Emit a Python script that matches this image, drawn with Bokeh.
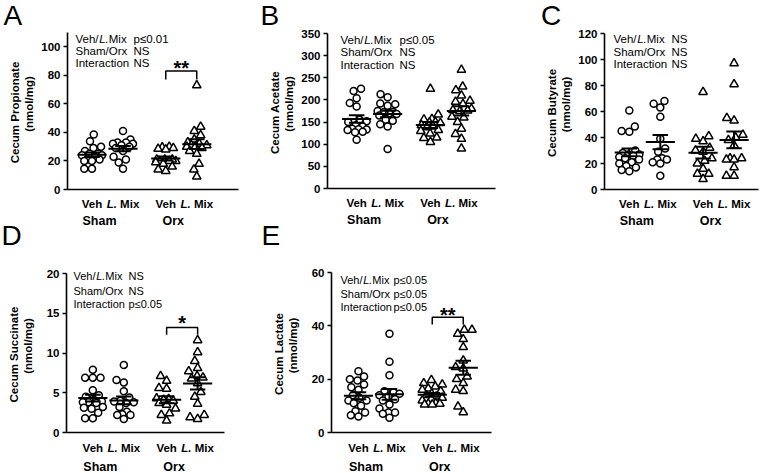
import numpy as np
from bokeh.plotting import figure
from bokeh.models import Label, FixedTicker, Range1d, LinearAxis
from bokeh.layouts import row
from bokeh.embed import file_html
from bokeh.resources import INLINE

FONT = "Liberation Sans"

# ---------------- categories ----------------
treatments = ["Veh", "L. Mix", "Veh", "L. Mix"]
surgeries = ["Sham", "Orx"]
group_pos = [1.0, 2.0, 3.38, 4.38]
group_marker = ["circle", "circle", "triangle", "triangle"]
stat_names = ["Veh/L.Mix", "Sham/Orx", "Interaction"]

# ---------------- data (nmol/mg) ----------------
propionate_sham_veh = [38.5, 33.8, 30, 29, 27, 25, 25, 24, 24, 23, 21, 21, 20, 20, 14.5, 14.5]
propionate_sham_lmix = [41, 35, 33, 33, 32, 32, 31, 30, 29, 27, 23, 21, 19, 14.5]
propionate_orx_veh = [30, 29.5, 29, 28.5, 28, 21, 20, 21, 21, 20, 20, 19, 18, 16, 14, 13]
propionate_orx_lmix = [73, 44, 41, 38, 35, 33, 32, 31, 31, 30, 30, 29, 27, 25, 18, 14, 9]

acetate_sham_veh = [225, 220, 204, 193, 185, 155, 152, 150, 143, 140, 135, 134, 133, 132, 128, 127, 110]
acetate_sham_lmix = [213, 206, 192, 190, 187, 175, 173, 172, 170, 168, 165, 155, 153, 145, 140, 89]
acetate_orx_veh = [225, 167, 157, 156, 150, 149, 148, 143, 140, 138, 132, 130, 124, 115, 114, 105]
acetate_orx_lmix = [268, 230, 222, 210, 198, 196, 191, 180, 177, 176, 175, 162, 160, 150, 135, 123, 112, 90]

butyrate_sham_veh = [60.8, 48.5, 45, 44.4, 30, 28, 27, 27, 26, 25, 24, 23, 21, 20, 18, 17, 15, 14]
butyrate_sham_lmix = [68, 66, 63, 56, 39, 31.5, 29, 24, 23, 23, 21, 20, 10.5]
butyrate_orx_veh = [75, 41, 39, 37, 32, 30, 29, 24, 22, 20, 16, 12, 12, 8]
butyrate_orx_lmix = [97, 81, 55, 53, 42, 40, 38, 34, 24, 24, 23, 23, 17, 10.5, 10.5]

succinate_sham_veh = [7.9, 6.9, 6.9, 6.9, 5.3, 4.7, 4.5, 4.2, 3.9, 3.8, 3.8, 3.7, 3.2, 3.1, 3.0, 2.5, 1.8, 1.8]
succinate_sham_lmix = [8.5, 6.6, 6.3, 5.2, 4.4, 4.0, 3.9, 3.8, 3.7, 3.2, 2.6, 2.3, 2.2, 2.2, 1.7]
succinate_orx_veh = [7.1, 6.5, 5.6, 5.5, 4.3, 4.2, 4.1, 4.0, 3.7, 3.5, 3.0, 2.4, 2.2, 1.5]
succinate_orx_lmix = [11.6, 10.1, 9.0, 8.1, 7.7, 7.1, 6.9, 6.8, 6.2, 5.1, 4.5, 3.6, 2.2, 1.9, 1.7]

lactate_sham_veh = [23, 21, 20, 19.5, 18, 17, 16, 14, 13, 12, 12, 11, 10, 8, 7.5, 6.5, 6]
lactate_sham_lmix = [37, 26.5, 21.5, 15.5, 15, 14.5, 14, 13.5, 12.5, 12, 10.5, 9, 7.5, 7.5, 7, 5.5]
lactate_orx_veh = [19.7, 18.5, 18, 17.2, 16.5, 16, 15.5, 14.5, 14, 13.5, 13, 12.5, 12, 11, 10.8, 10.8, 10.5, 10.5]
lactate_orx_lmix = [38.5, 38.5, 37, 35, 32, 27, 24.5, 24, 21, 20, 18.5, 16, 15.5, 9.7, 7.6]

# axis definitions
propionate_ticks = [0, 20, 40, 60, 80, 100]
acetate_ticks = [0, 50, 100, 150, 200, 250, 300, 350]
butyrate_ticks = [0, 20, 40, 60, 80, 100, 120]
succinate_ticks = [0, 5, 10, 15, 20]
lactate_ticks = [0, 20, 40, 60]

propionate_stats = ["p≤0.01", "NS", "NS"]
acetate_stats = ["p≤0.05", "NS", "NS"]
butyrate_stats = ["NS", "NS", "NS"]
succinate_stats = ["NS", "NS", "p≤0.05"]
lactate_stats = ["p≤0.05", "p≤0.05", "p≤0.05"]

# significance brackets: (top, foot, stars)
propionate_bracket = (83, 77, "**")
succinate_bracket = (13.2, 12.3, "*")
lactate_bracket = (43.2, 40.5, "**")

panels = {
    "A": dict(title="Cecum Propionate", ymax=110, ticks=propionate_ticks,
              data=[propionate_sham_veh, propionate_sham_lmix, propionate_orx_veh, propionate_orx_lmix],
              stats=propionate_stats, bracket=propionate_bracket),
    "B": dict(title="Cecum Acetate", ymax=350, ticks=acetate_ticks,
              data=[acetate_sham_veh, acetate_sham_lmix, acetate_orx_veh, acetate_orx_lmix],
              stats=acetate_stats, bracket=None),
    "C": dict(title="Cecum Butyrate", ymax=120, ticks=butyrate_ticks,
              data=[butyrate_sham_veh, butyrate_sham_lmix, butyrate_orx_veh, butyrate_orx_lmix],
              stats=butyrate_stats, bracket=None),
    "D": dict(title="Cecum Succinate", ymax=20, ticks=succinate_ticks,
              data=[succinate_sham_veh, succinate_sham_lmix, succinate_orx_veh, succinate_orx_lmix],
              stats=succinate_stats, bracket=succinate_bracket),
    "E": dict(title="Cecum Lactate", ymax=60, ticks=lactate_ticks,
              data=[lactate_sham_veh, lactate_sham_lmix, lactate_orx_veh, lactate_orx_lmix],
              stats=lactate_stats, bracket=lactate_bracket),
}

# ---------------- layout (canvas pixels) ----------------
# frame = (left, right, top, bottom) of each plotting area inside its column figure
layouts = {
    "A": dict(frame=(67, 238, 32, 189), x0=0.21, letter=(3, 15), cols=(8, 66), rows=(6.5, 18.5, 30),
              fs=11.5, cat=(14.5, 31.5), star_gap=3.5),
    "D": dict(frame=(66, 224, 273, 432), x0=0.15, letter=(1, 235), cols=(7, 62), rows=(2.5, 17, 30),
              fs=11, cat=(15.5, 34), star_gap=4.5),
    "B": dict(frame=(72, 240, 33, 188), x0=0.06, letter=(5, 15), cols=(13, 72), rows=(6, 18.5, 31),
              fs=11.5, cat=(14.5, 31.5), star_gap=3.5),
    "E": dict(frame=(76, 236, 272, 432), x0=0.13, letter=(6, 235), cols=(9, 62), rows=(7.5, 21, 34),
              fs=11, cat=(15.5, 34), star_gap=2),
    "C": dict(frame=(104, 258, 33, 189), x0=0.20, letter=(40.6, 15), cols=(9, 67), rows=(5, 18, 30),
              fs=11.5, cat=(14.5, 31.5), star_gap=3.5),
}
columns = [(255, ["A", "D"]), (245, ["B", "E"]), (262, ["C"])]
PAGE_H = 473

PPX = 31.0      # pixels per x unit
DOT = 7.7       # swarm spacing in px
MAXW = 10.0     # max horizontal spread of a swarm (px)


def swarm(vals, ppy, d, maxw):
    vals = np.asarray(vals, dtype=float)
    order = np.argsort(vals)
    placed = []
    offs = np.zeros(len(vals))
    grid = np.arange(-maxw, maxw + 0.01, 0.5)
    for i in order:
        y = vals[i] * ppy
        cands = [0.0]
        for (px, py) in placed:
            dy = abs(py - y)
            if dy < d:
                dx = np.sqrt(d * d - dy * dy)
                cands += [px - dx, px + dx]
        cands = [c for c in cands if abs(c) <= maxw + 1e-9]
        cands.sort(key=lambda c: (abs(c), c))
        chosen = None
        for c in cands:
            if all((c - px) ** 2 + (y - py) ** 2 >= d * d - 1e-6 for px, py in placed):
                chosen = c
                break
        if chosen is None:
            best, bestd = 0.0, -1.0
            for c in sorted(grid, key=lambda c: abs(c)):
                md = min((c - px) ** 2 + (y - py) ** 2 for px, py in placed)
                if md > bestd + 1e-9:
                    best, bestd = c, md
            chosen = best
        placed.append((chosen, y))
        offs[i] = chosen
    return offs


def add_panel(p, key, W, H, xr_dict, yr_dict):
    spec = panels[key]
    lay = layouts[key]
    fl, fr, ft, fb = lay["frame"]
    fw, fh = fr - fl, fb - ft
    x0 = lay["x0"]
    ymax = float(spec["ymax"])
    ppy = fh / ymax
    xs0 = x0 - fl / PPX
    xr_dict[key + "x"] = Range1d(xs0, xs0 + W / PPX)
    yr_dict[key + "y"] = Range1d(-(H - fb) / ppy, ymax + ft / ppy)
    rn = dict(x_range_name=key + "x", y_range_name=key + "y")

    ya = LinearAxis(fixed_location=x0, bounds=(0, ymax), ticker=FixedTicker(ticks=spec["ticks"]), **rn)
    ya.major_label_text_font = FONT
    ya.major_label_text_font_style = "bold"
    ya.major_label_text_font_size = "11.5px"
    ya.major_label_text_color = "black"
    ya.major_tick_in = 0
    ya.major_tick_out = 4
    ya.minor_tick_line_color = None
    ya.axis_line_width = 1.6
    ya.major_tick_line_width = 1.6
    ya.major_label_standoff = 3
    p.add_layout(ya, "left")

    xa = LinearAxis(fixed_location=0, bounds=(x0, x0 + fw / PPX), ticker=FixedTicker(ticks=[]), **rn)
    xa.major_tick_line_color = None
    xa.minor_tick_line_color = None
    xa.axis_line_width = 1.6
    p.add_layout(xa, "below")

    def at(dx, dy):
        return x0 + dx / PPX, ymax - dy / ppy

    def lab(dx, dy, text, size="11.5px", style="normal", align="left", angle=0.0):
        x, y = at(dx, dy)
        p.add_layout(Label(x=x, y=y, text=text, text_font=FONT, text_font_size=size,
                           text_font_style=style, text_align=align, text_baseline="middle",
                           text_color="black", angle=angle, **rn))

    # data points
    for g, vals in enumerate(spec["data"]):
        offs = swarm(vals, ppy, DOT, MAXW)
        xs = group_pos[g] + offs / PPX
        mk = group_marker[g]
        p.scatter(xs, vals, marker=mk, size=7 if mk == "circle" else 8.5,
                  fill_color="white", line_color="black", line_width=1.5, **rn)
    # mean +- SEM
    for g, vals in enumerate(spec["data"]):
        v = np.asarray(vals, dtype=float)
        m = v.mean()
        s = v.std(ddof=1) / np.sqrt(len(v))
        gx = group_pos[g]
        p.segment(x0=[gx - 0.47, gx - 0.25, gx - 0.25, gx], y0=[m, m + s, m - s, m - s],
                  x1=[gx + 0.47, gx + 0.25, gx + 0.25, gx], y1=[m, m + s, m - s, m + s],
                  line_color="black", line_width=2, **rn)

    # bracket
    if spec["bracket"] is not None:
        top, foot, stars = spec["bracket"]
        bx1, bx2 = group_pos[2], group_pos[3]
        p.line([bx1, bx1, bx2, bx2], [foot, top, top, foot], line_color="black", line_width=1.5, **rn)
        xm = (bx1 + bx2) / 2
        p.add_layout(Label(x=xm, y=top + lay["star_gap"] / ppy, text=stars, text_font=FONT,
                           text_font_size="20px", text_font_style="bold", text_align="center",
                           text_baseline="middle", text_color="black", **rn))

    # panel letter (canvas position of its left edge / cap centre)
    lx, ly = lay["letter"]
    lab(lx - fl, ly - ft, key, size="28px")

    # y-axis title (two lines, rotated)
    lab(-53, fh / 2 + 1.5, spec["title"], style="bold", align="center", angle=np.pi / 2)
    lab(-39, fh / 2 - 7, "(nmol/mg)", style="bold", align="center", angle=np.pi / 2)

    # statistics text
    c1, c2 = lay["cols"]
    fs = lay["fs"]
    fsz = f"{fs}px"
    for i, ry in enumerate(lay["rows"]):
        if i == 0:
            w_veh = 2.057 * fs
            w_l = 0.834 * fs
            lab(c1, ry, "Veh/", size=fsz)
            lab(c1 + w_veh, ry, "L.", size=fsz, style="italic")
            lab(c1 + w_veh + w_l, ry, "Mix", size=fsz)
        else:
            lab(c1, ry, stat_names[i], size=fsz)
        lab(c2, ry, spec["stats"][i], size=fsz)

    # category labels under the x axis
    cfs = 11.5
    r1, r2 = lay["cat"]
    for g in range(4):
        gdx = (group_pos[g] - x0) * PPX
        if treatments[g] == "Veh":
            lab(gdx, fh + r1, "Veh", style="bold", align="center")
        else:
            left = gdx - 2.834 * cfs / 2
            lab(left, fh + r1, "L.", style="bold italic")
            lab(left + 1.167 * cfs, fh + r1, "Mix", style="bold")
    for k, name in enumerate(surgeries):
        mid = ((group_pos[2 * k] + group_pos[2 * k + 1]) / 2 - x0) * PPX - 8
        lab(mid, fh + r2, name, size="12.5px", style="bold", align="center")


figs = []
for W, keys in columns:
    p = figure(width=W, height=PAGE_H, x_range=Range1d(0, 1), y_range=Range1d(0, 1),
               x_axis_type=None, y_axis_type=None, title=None,
               min_border=0, min_border_left=0, min_border_right=0, min_border_top=0,
               min_border_bottom=0, output_backend="svg", toolbar_location=None, tools="")
    p.outline_line_color = None
    p.background_fill_color = "white"
    p.border_fill_color = "white"
    xr_dict, yr_dict = {}, {}
    for key in keys:
        add_panel(p, key, W, PAGE_H, xr_dict, yr_dict)
    p.extra_x_ranges = xr_dict
    p.extra_y_ranges = yr_dict
    figs.append(p)

page = row(*figs)
open("out.html", "w").write(file_html(page, INLINE))
